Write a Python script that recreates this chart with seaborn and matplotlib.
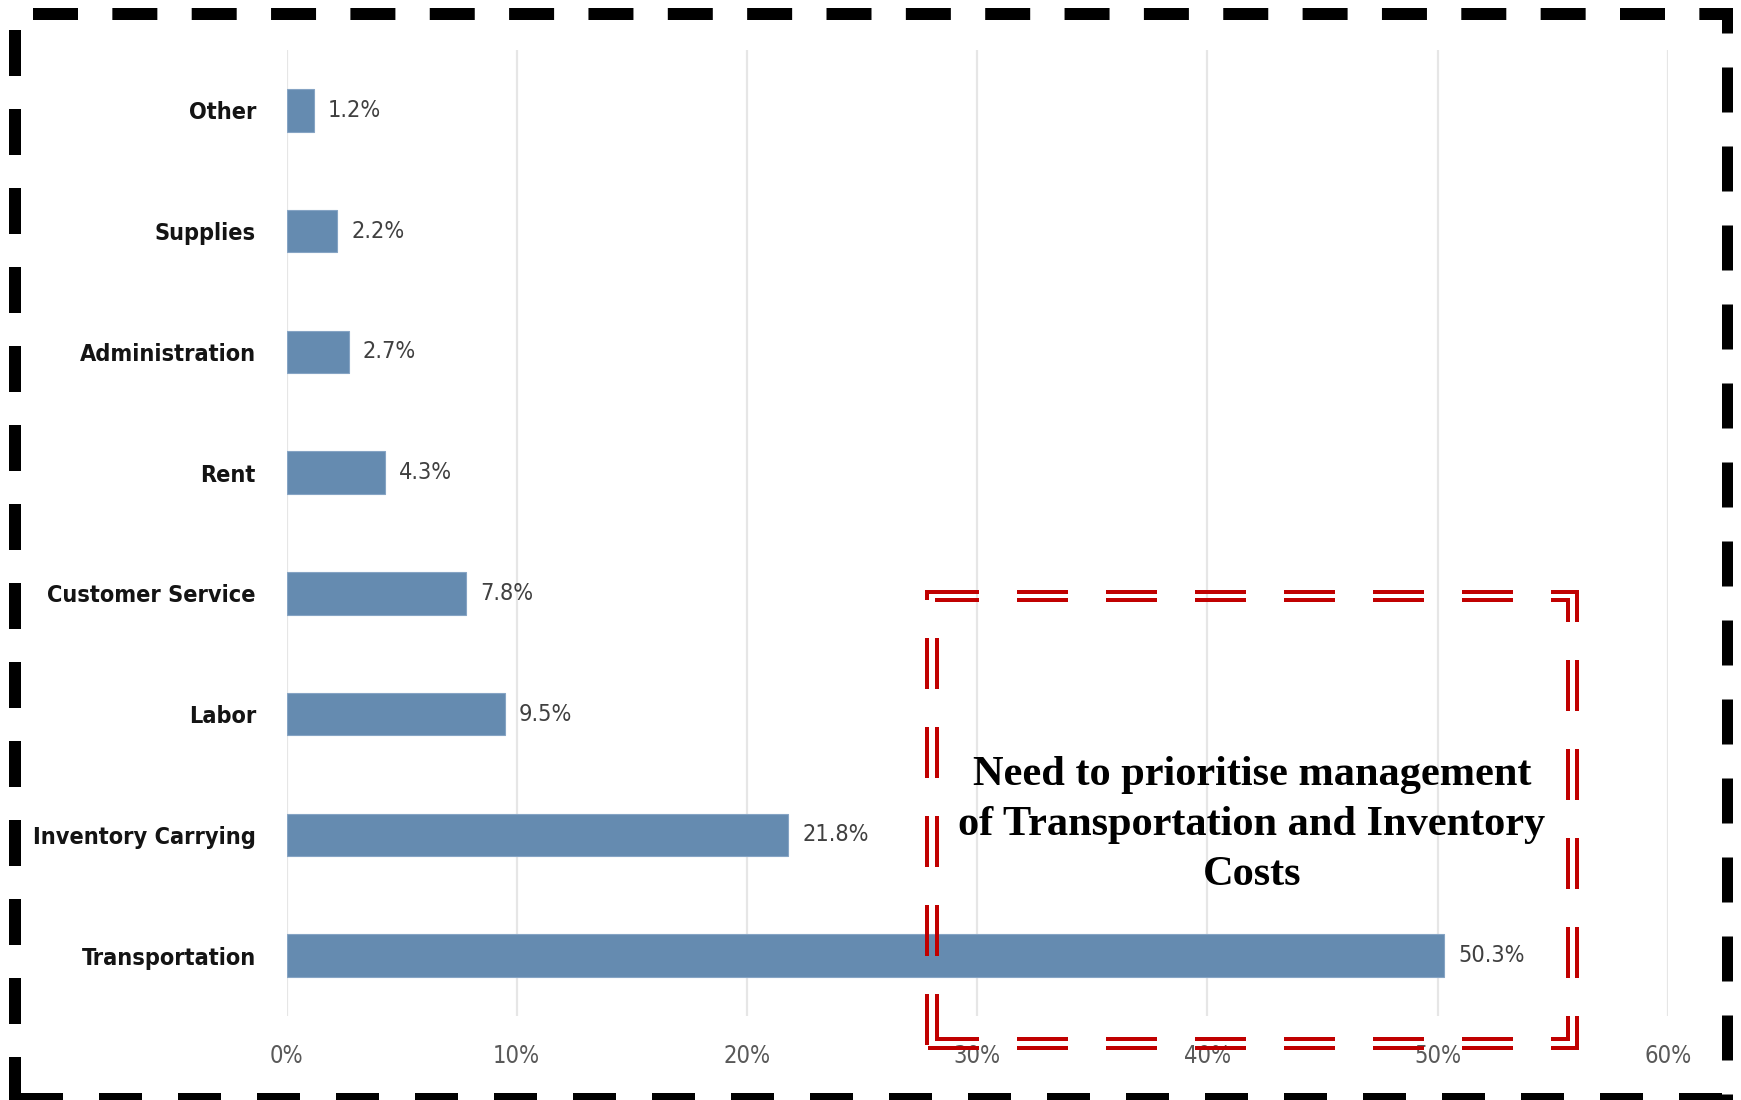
import matplotlib
matplotlib.use("Agg")
import matplotlib.pyplot as plt
import matplotlib.transforms as mtransforms
from matplotlib.lines import Line2D
import seaborn as sns
import pandas as pd

# ---- data ----
categories = ["Other", "Supplies", "Administration", "Rent", "Customer Service",
              "Labor", "Inventory Carrying", "Transportation"]
values = [1.2, 2.2, 2.7, 4.3, 7.8, 9.5, 21.8, 50.3]
tick_values = [0, 10, 20, 30, 40, 50, 60]
tick_labels = ["0%", "10%", "20%", "30%", "40%", "50%", "60%"]
annotation = "Need to prioritise management\nof Transportation and Inventory\nCosts"

sns.set_style("white")
plt.rcParams['font.family'] = ['DejaVu Sans']
plt.rcParams['font.stretch'] = 'condensed'
plt.rcParams['lines.scale_dashes'] = False

W, H = 1741, 1100
fig = plt.figure(figsize=(W / 100, H / 100), dpi=100)
ax = fig.add_axes([286.5 / W, 1 - 1016 / H, (1667.7 - 286.5) / W, (1016 - 50) / H])

df = pd.DataFrame({"category": categories, "value": values})
sns.barplot(data=df, x="value", y="category", orient="h", color="#658BB0",
            saturation=1, width=0.35, ax=ax, edgecolor="#86A4C4", linewidth=0.8)

ax.set_xlim(0, 60)
ax.set_ylim(7.5, -0.5)
ax.set_xticks(tick_values)
ax.set_xticklabels(tick_labels)
ax.set_xlabel("")
ax.set_ylabel("")
ax.grid(axis="x", color="#E6E6E6", linewidth=1.6)
ax.grid(axis="y", visible=False)
ax.set_axisbelow(True)
for s in ax.spines.values():
    s.set_visible(False)
ax.tick_params(axis="x", length=0, pad=20, labelsize=17, labelcolor="#595959")
ax.tick_params(axis="y", length=0, pad=22, labelsize=16.8, labelcolor="#141414")
for lab in ax.get_yticklabels():
    lab.set_fontweight("bold")
    lab.set_fontstretch("condensed")
for lab in ax.get_xticklabels():
    lab.set_fontstretch("condensed")

for p, v in zip(ax.patches, values):
    ax.annotate(f"{v:.1f}%", xy=(p.get_width(), p.get_y() + p.get_height() / 2),
                xytext=(10, 0), textcoords="offset points", va="center", ha="left",
                fontsize=16.8, color="#404040", fontstretch="condensed")

# ---- decorations in pixel coordinates ----
pix = mtransforms.Affine2D().scale(1 / W, -1 / H).translate(0, 1) + fig.transFigure


def dashed(x0, y0, x1, y1, origin, on, off, lw, color):
    horiz = abs(y1 - y0) < abs(x1 - x0)
    start = x0 if horiz else y0
    period = on + off
    offset = (start - origin) % period
    ln = Line2D([x0, x1], [y0, y1], transform=pix, color=color,
                linewidth=lw * 0.72,
                linestyle=(offset * 0.72, (on * 0.72, off * 0.72)),
                solid_capstyle="butt", dash_capstyle="butt")
    fig.add_artist(ln)


# black outer dashed border
blk = "#000000"
dashed(15, 14, 1733, 14, 33, 45, 34.35, 12, blk)        # top
dashed(15, 14, 15, 1100, 30, 46, 33, 12, blk)           # left
dashed(1727, 8, 1727, 1100, 67, 45, 34, 11, blk)        # right
dashed(0, 1099, 1741, 1099, 889, 43, 36, 12, blk)       # bottom

# red double dashed box
red = "#C00000"
on, off = 51, 38
for (xl, xr, yt, yb) in [(927, 1577, 592, 1048), (937, 1568, 600, 1039)]:
    dashed(xl - 2, yt, xr + 2, yt, 928, on, off, 4, red)        # top
    dashed(xl - 2, yb, xr + 2, yb, 928, on, off, 4, red)        # bottom
    dashed(xl, yt - 2, xl, yb + 2, 638, on, off, 4, red)        # left
    dashed(xr, yt - 2, xr, yb + 2, 571, on, off, 4, red)        # right

fig.text(1252 / W, 1 - 825 / H, annotation, ha="center", va="center",
         fontsize=30.5, fontweight="bold", family=["Liberation Serif", "DejaVu Serif"],
         fontstretch="normal", color="#000000", linespacing=1.43)

fig.savefig("out.png", dpi=100)
